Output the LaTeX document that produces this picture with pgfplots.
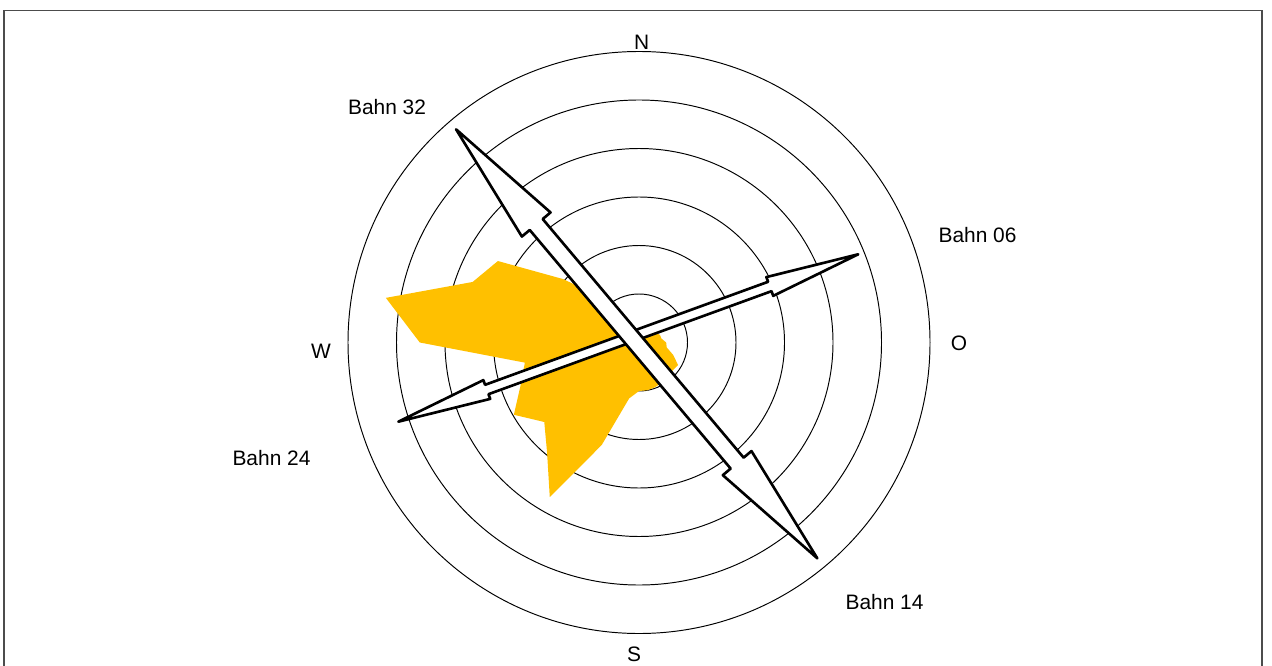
\documentclass[border=0pt]{standalone}
\usepackage{fontspec}
\setmainfont{Liberation Sans}
\usepackage{pgfplots}
\usepackage{pgfplotstable}
\pgfplotsset{compat=1.18}
\definecolor{windgold}{HTML}{FFC000}

\pgfplotstableread{
dir val
0 0.15
10 0.15
20 0.15
30 0.2
40 0.25
50 0.35
60 0.4
70 0.46
80 0.47
90 0.56
100 0.58
110 0.75
120 0.93
130 0.90
140 0.90
150 0.95
160 0.98
170 1.00
180 1.00
190 1.17
200 2.25
210 3.68
220 2.95
230 2.55
240 2.98
250 2.60
260 2.39
270 4.52
280 5.30
290 3.65
300 3.36
310 2.03
320 1.20
330 0.30
340 0.20
350 0.15
}\windtable

% runway 06/24 outline in its own frame (u along runway, v across)
\pgfplotstableread{
u v
5.045 0
3.105 0.206
3.105 0.103
-3.105 0.103
-3.105 0.206
-5.045 0
-3.105 -0.206
-3.105 -0.103
3.105 -0.103
3.105 -0.206
}\runwayA

% runway 14/32 outline
\pgfplotstableread{
u v
5.783 0
3.216 0.386
3.216 0.175
-3.216 0.175
-3.216 0.386
-5.783 0
-3.216 -0.386
-3.216 -0.175
3.216 -0.175
3.216 -0.386
}\runwayB

\begin{document}
\begin{tikzpicture}[x=1cm,y=1cm]
\path[use as bounding box] (0,0) rectangle (25.44,13.30);
\draw[gray!60!black, line width=0.6pt] (0.08,-0.5) -- (0.08,13.086) -- (25.24,13.086) -- (25.24,-0.5);
\begin{axis}[at={(12.78cm,6.45cm)}, anchor=center, x=0.97cm, y=0.97cm,
  xmin=-6.5, xmax=6.5, ymin=-6.5, ymax=6.5, hide axis, clip=false]
\pgfplotsinvokeforeach{1,...,6}{\draw[black, line width=0.55pt] (axis cs:0,0) circle[radius=#1*0.97cm];}
\addplot[fill=windgold, draw=none] table[x expr={\thisrow{val}*sin(\thisrow{dir})}, y expr={\thisrow{val}*cos(\thisrow{dir})}] {\windtable} -- cycle;
\addplot[fill=white, draw=black, line width=1.5pt, line join=round] table[x expr={-0.221+\thisrow{u}*cos(20)-\thisrow{v}*sin(20)}, y expr={0.093+\thisrow{u}*sin(20)+\thisrow{v}*cos(20)}] {\runwayA} -- cycle;
\addplot[fill=white, draw=black, line width=1.5pt, line join=round] table[x expr={-0.048+\thisrow{u}*cos(130.1)-\thisrow{v}*sin(130.1)}, y expr={-0.027+\thisrow{u}*sin(130.1)+\thisrow{v}*cos(130.1)}] {\runwayB} -- cycle;
\end{axis}
\begin{scope}[every node/.style={anchor=base, inner sep=0pt, font=\fontsize{11.9}{14}\selectfont}]
\node at (12.834,12.314) {N};
\node at (7.74,11.0) {Bahn 32};
\node at (19.55,8.44) {Bahn 06};
\node at (19.18,6.30) {O};
\node at (6.42,6.14) {W};
\node at (5.43,4.0) {Bahn 24};
\node at (17.69,1.12) {Bahn 14};
\node at (12.68,0.07) {S};
\end{scope}
\end{tikzpicture}
\end{document}
